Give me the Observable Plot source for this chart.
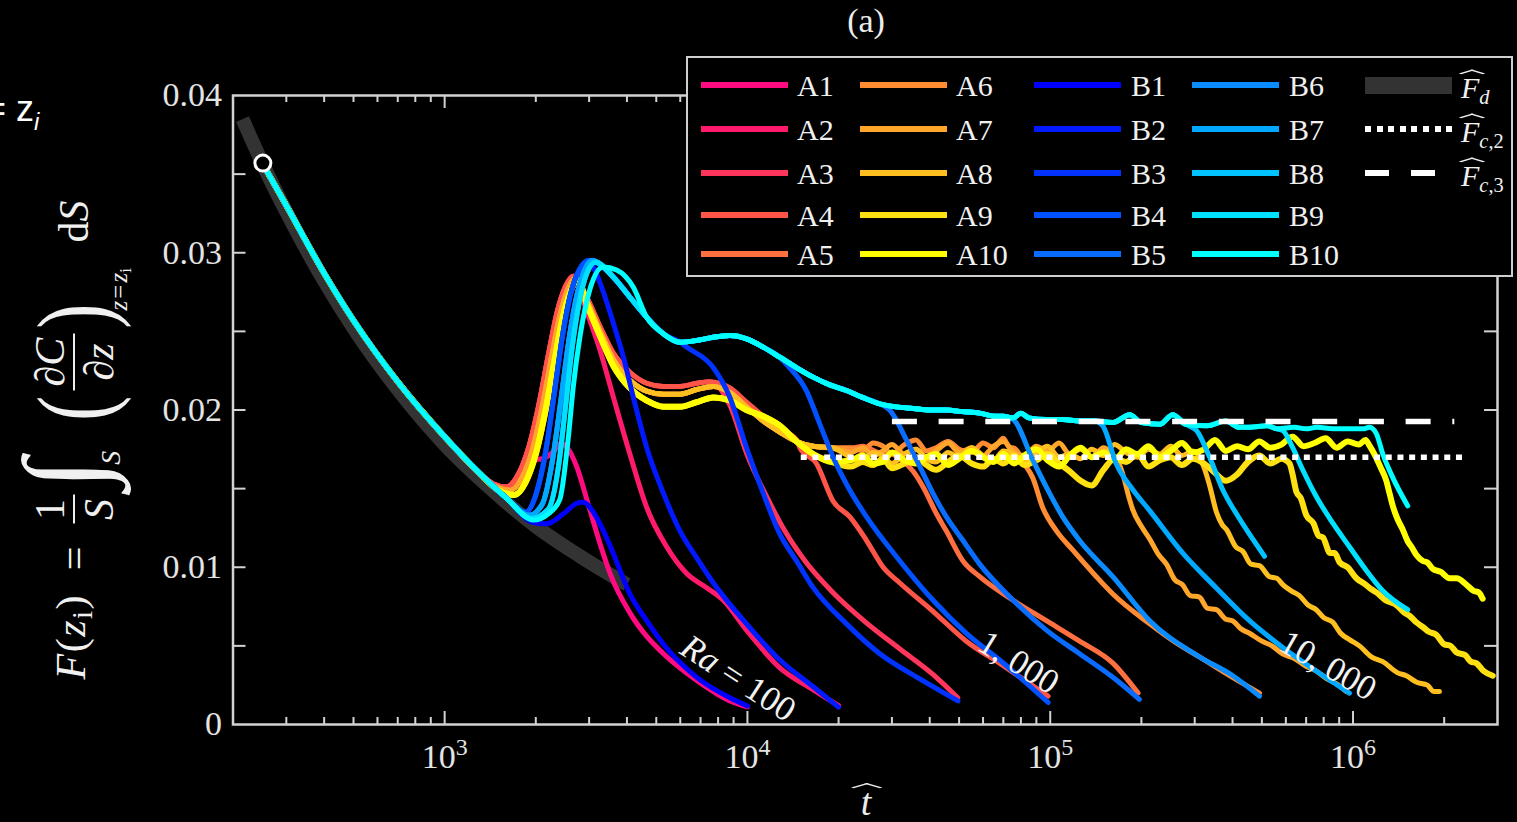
<!DOCTYPE html>
<html><head><meta charset="utf-8">
<script src="https://cdn.jsdelivr.net/npm/d3@7"></script>
<script src="https://cdn.jsdelivr.net/npm/@observablehq/plot@0.6"></script>
<style>
html,body{margin:0;padding:0;background:#000;}
#wrap{position:relative;width:1517px;height:822px;overflow:hidden;background:#000;font-family:"Liberation Serif",serif;color:#e8e8e8;}
#wrap svg{position:absolute;left:0;top:0;}
.abs{position:absolute;white-space:nowrap;}
#legend{position:absolute;left:686px;top:56px;width:823px;height:217px;border:2.5px solid #cfcfcf;background:#000;}
.sw{position:absolute;height:6px;width:87px;}
.lt{position:absolute;font-size:30px;line-height:30px;height:30px;color:#f0f0f0;}
.hatw{position:relative;display:inline-block;font-style:italic;}
.hatw::before{content:"";position:absolute;left:58%;top:-0.16em;width:0.3em;height:0.3em;border-left:2px solid currentColor;border-top:2px solid currentColor;transform:translateX(-50%) scale(1.7,0.5) rotate(45deg);}
.sub{font-size:0.68em;vertical-align:-0.3em;}
.isub{font-size:0.68em;vertical-align:-0.25em;}
.frac{display:inline-flex;flex-direction:column;align-items:center;line-height:1.0;}
.frac .num{border-bottom:2px solid #eee;padding:0 4px 2px 4px;}
.frac .den{padding-top:3px;}
</style></head>
<body><div id="wrap"></div>
<script>
// ---------------- data ----------------
const xTicksMajor = [1e3, 1e4, 1e5, 1e6];
const xTickExp = ["3", "4", "5", "6"];
const xTicksMinor = [300,400,500,600,700,800,900,2e3,3e3,4e3,5e3,6e3,7e3,8e3,9e3,2e4,3e4,4e4,5e4,6e4,7e4,8e4,9e4,2e5,3e5,4e5,5e5,6e5,7e5,8e5,9e5,2e6];
const yTicks = [0.005,0.01,0.015,0.02,0.025,0.03,0.035];
const yLabelValues = [0, 0.01, 0.02, 0.03, 0.04];
const yLabelText = ["0", "0.01", "0.02", "0.03", "0.04"];

const namesA = ["A1","A2","A3","A4","A5","A6","A7","A8","A9","A10"];
const namesB = ["B1","B2","B3","B4","B5","B6","B7","B8","B9","B10"];
const colorsA = ["#ff0a80","#ff1a6c","#ff355c","#ff5548","#ff7040","#ff8c33","#ffa62b","#ffbf20","#ffe010","#ffff00"];
const colorsB = ["#0000ff","#0019ff","#0033ff","#0052ff","#0a6cff","#0a8cff","#00a8ff","#00c2ff","#00e0ff","#00ffff"];

// diffusive reference F_d (thick grey)
const Fd = [[215,0.0385],[260,0.0350],[300,0.0326],[400,0.0282],[500,0.0252],[700,0.0213],[1000,0.0178],[1400,0.0151],[2000,0.0126],[2800,0.0107],[4000,0.0089]];
const Fc2 = [[1.5e4,0.0170],[2.37e6,0.0170]];
const Fc3 = [[3.0e4,0.01927],[2.16e6,0.01927]];
const startPoint = [[251,0.0357]];

// shared early decay
const early = [[250,0.0357],[300,0.0330],[400,0.0287],[500,0.0257],[700,0.0218],[1000,0.0183],[1300,0.0160]];

// Ra = 100
const A1rest = [[1450,0.0153],[1600,0.0151],[1750,0.0158],[1900,0.0168],[2100,0.0169],[2300,0.0174],[2420,0.0179],[2540,0.0176],[2730,0.0164],[2980,0.0140],[3260,0.0115],[3520,0.0096],[4090,0.0071],[4650,0.0056],[5280,0.0045],[6800,0.0028],[8750,0.0015],[10000,0.00112]];
const B1rest = [[1600,0.0144],[1960,0.01285],[2170,0.01276],[2470,0.0134],[2730,0.01407],[2870,0.01414],[3100,0.0135],[3340,0.01234],[3610,0.01085],[4090,0.0083],[4650,0.0066],[5280,0.0051],[6800,0.0030],[8750,0.0017],[10000,0.00118]];

// rises
const riseAa = [[1450,0.0153],[1600,0.0151],[1750,0.0159],[1900,0.0177],[2050,0.0204],[2200,0.0235],[2350,0.0262],[2500,0.0278],[2660,0.0285]];
const riseAb = [[1450,0.0152],[1650,0.0149],[1800,0.0157],[1950,0.0175],[2100,0.0202],[2250,0.0233],[2400,0.0260],[2550,0.0277],[2700,0.0284]];
const riseAc = [[1500,0.0149],[1700,0.0146],[1850,0.0154],[2000,0.0172],[2150,0.0199],[2300,0.0230],[2450,0.0258],[2600,0.0275],[2750,0.0283]];
const riseBa = [[1600,0.0144],[1850,0.0135],[2000,0.0146],[2150,0.0172],[2300,0.0210],[2450,0.0247],[2600,0.0273],[2800,0.0290],[3000,0.0295]];
const riseBb = [[1600,0.0144],[1900,0.0133],[2100,0.0140],[2270,0.0168],[2420,0.0206],[2570,0.0244],[2720,0.0271],[2900,0.0289],[3060,0.0295]];
const riseBc = [[1600,0.0144],[1930,0.0131],[2200,0.0137],[2380,0.0165],[2500,0.0200],[2630,0.0238],[2780,0.0268],[2950,0.0287],[3150,0.0294]];
const riseB10 = [[1600,0.0144],[1965,0.0130],[2200,0.0134],[2400,0.0143],[2560,0.0182],[2660,0.0215],[2800,0.0247],[3020,0.0277],[3340,0.0291],[3700,0.0289],[4200,0.0278]];

// A branch after first peak
const A2tail = [[2940,0.0263],[3260,0.0238],[3610,0.0208],[4090,0.0172],[4650,0.0138],[5410,0.0113],[6300,0.0096],[7330,0.0087],[8320,0.0079],[9930,0.0060],[12800,0.0036],[16500,0.0022],[20000,0.0012]];
const shoulderUp = [[2940,0.0272],[3260,0.0253],[3610,0.0236],[4090,0.0224],[4650,0.0217],[5280,0.0215],[5990,0.0215],[6800,0.0217],[7520,0.0218]];
const A3tail = [[8750,0.0203],[10000,0.0171],[11500,0.0146],[13300,0.0123],[15500,0.0104],[19150,0.0084],[24600,0.0065],[31900,0.0048],[40900,0.0032],[49500,0.0017]];
const A4mid = [[8760,0.0214],[9930,0.0205],[11270,0.0196],[12790,0.0188],[14530,0.0181]];
const A4tail = [[14900,0.0176],[16900,0.0166],[19190,0.0142],[21790,0.0132],[24740,0.0117],[28070,0.0100],[31870,0.0090],[41000,0.0072],[52800,0.0053],[68000,0.0039],[98400,0.0018]];
const shoulderMid = [[2940,0.0270],[3260,0.0250],[3610,0.0232],[4090,0.0219],[4650,0.0212],[5280,0.0210],[5990,0.0210],[6800,0.0213],[7720,0.0215],[8760,0.0211],[9930,0.0202],[11270,0.0193],[12790,0.0186],[14530,0.0180],[16480,0.0177],[19000,0.0176]];
const shoulderLow = [[2940,0.0268],[3260,0.0247],[3610,0.0228],[4090,0.0214],[4650,0.0206],[5280,0.0202],[5990,0.0202],[6800,0.0205],[7720,0.0208],[8760,0.0206],[9930,0.0200],[11270,0.0196],[12790,0.0190],[14530,0.0180],[16480,0.0172],[19000,0.0167]];
const A5rest = [[21240,0.0175],[24000,0.0177],[27000,0.0173],[30000,0.0172],[31870,0.0169],[35250,0.0161],[38040,0.0151],[42100,0.0134],[45400,0.0123],[51500,0.0104],[58500,0.0094],[75400,0.0079],[97100,0.0066],[125000,0.0053],[161000,0.0039],[195000,0.0020]];
const plateauA6 = [[22000,0.0176],[24000,0.0174],[26000,0.0179],[28000,0.0177],[30000,0.0172],[33000,0.0178],[36000,0.0181],[39000,0.0174],[42000,0.0176],[46000,0.0180],[50000,0.0175],[55000,0.0173],[60000,0.0179],[65000,0.0176],[70000,0.0182],[73500,0.0176]];
const A6tail = [[75400,0.0176],[82600,0.0165],[87500,0.0157],[94400,0.0138],[105000,0.0123],[118600,0.0111],[142000,0.0094],[161000,0.0083],[213000,0.0064],[260000,0.0052],[311000,0.0043],[400000,0.0030],[491000,0.0020]];
const plateauA7 = [[22000,0.0173],[24000,0.0176],[26000,0.0171],[28000,0.0174],[30000,0.0178],[33000,0.0172],[36000,0.0175],[39000,0.0170],[42000,0.0174],[46000,0.0179],[50000,0.0173],[55000,0.0176],[60000,0.0171],[65000,0.0177],[70000,0.0180],[76000,0.0173],[82000,0.0171],[90000,0.0177],[98000,0.0174],[107000,0.0179],[116000,0.0172],[126000,0.0175],[137000,0.0170],[150000,0.0176]];
const A7tail = [[160000,0.0172],[167000,0.0168],[175000,0.0157],[181000,0.0146],[187000,0.0137],[200000,0.0126],[213000,0.0118],[228000,0.0108],[242000,0.0102],[258000,0.0092],[273000,0.0089],[290000,0.0082],[311000,0.0081],[330000,0.0074],[354000,0.0073],[380000,0.0067],[400000,0.0066],[425000,0.0061],[455000,0.0058],[500000,0.0053],[540000,0.0050],[585000,0.0045],[640000,0.0042],[700000,0.0037],[757000,0.0034],[820000,0.0029],[880000,0.0026],[950000,0.0021]];
const plateauA8 = [[22000,0.0170],[24000,0.0168],[26000,0.0173],[28000,0.0171],[30000,0.0166],[33000,0.0172],[36000,0.0175],[39000,0.0169],[42000,0.0167],[46000,0.0173],[50000,0.0170],[55000,0.0176],[60000,0.0171],[65000,0.0168],[70000,0.0174],[76000,0.0172],[82000,0.0167],[90000,0.0173],[98000,0.0177],[107000,0.0170],[116000,0.0172],[126000,0.0169],[137000,0.0175],[150000,0.0171],[163000,0.0178],[178000,0.0173],[194000,0.0170],[211000,0.0175],[230000,0.0172],[250000,0.0177],[272000,0.0171],[296000,0.0174],[315000,0.0168]];
const A8tail = [[324000,0.0162],[336000,0.0152],[354000,0.0135],[370000,0.0127],[382000,0.0124],[410000,0.0113],[433000,0.0110],[460000,0.0102],[491000,0.0101],[530000,0.0094],[560000,0.0093],[586000,0.0089],[625000,0.0085],[665000,0.0082],[710000,0.0076],[756000,0.0073],[800000,0.0068],[858000,0.0065],[910000,0.0058],[973000,0.0054],[1050000,0.0050],[1150000,0.0043],[1254000,0.0040],[1400000,0.0033],[1500000,0.0031],[1617000,0.0027],[1760000,0.0025],[1850000,0.0021],[1928000,0.0021]];
const plateauA9 = [[22000,0.0164],[24000,0.0167],[26000,0.0165],[28000,0.0169],[30000,0.0163],[33000,0.0166],[36000,0.0170],[39000,0.0165],[42000,0.0162],[46000,0.0167],[50000,0.0171],[55000,0.0166],[60000,0.0164],[65000,0.0169],[70000,0.0166],[76000,0.0171],[82000,0.0165],[90000,0.0168],[98000,0.0172],[107000,0.0166],[116000,0.0161],[126000,0.0155],[137000,0.0152],[150000,0.0162],[163000,0.0169],[178000,0.0167],[194000,0.0172],[211000,0.0164],[230000,0.0168],[250000,0.0170],[272000,0.0165],[296000,0.0169],[322000,0.0166],[350000,0.0160],[380000,0.0155],[414000,0.0159],[450000,0.0167],[490000,0.0171],[533000,0.0166],[580000,0.0169]];
const A9tail = [[617000,0.0166],[630000,0.0160],[650000,0.0148],[672000,0.0144],[701000,0.0133],[740000,0.0128],[770000,0.0120],[795000,0.0119],[840000,0.0109],[870000,0.0109],[904000,0.0103],[960000,0.0100],[1026000,0.0093],[1100000,0.0089],[1150000,0.0086],[1194000,0.0084],[1280000,0.0079],[1390000,0.0076],[1480000,0.0071],[1540000,0.0069],[1618000,0.0065],[1700000,0.0062],[1780000,0.0059],[1884000,0.0057],[2000000,0.0051],[2100000,0.0050],[2193000,0.0046],[2350000,0.0044],[2450000,0.0040],[2553000,0.0039],[2700000,0.0034],[2894000,0.0031]];
const plateauA10 = [[22000,0.0168],[24000,0.0171],[26000,0.0166],[28000,0.0167],[30000,0.0173],[33000,0.0168],[36000,0.0166],[39000,0.0170],[42000,0.0172],[46000,0.0165],[50000,0.0169],[55000,0.0174],[60000,0.0170],[65000,0.0167],[70000,0.0172],[76000,0.0166],[82000,0.0171],[90000,0.0175],[98000,0.0168],[107000,0.0164],[116000,0.0171],[126000,0.0176],[137000,0.0170],[150000,0.0173],[163000,0.0168],[178000,0.0175],[194000,0.0172],[211000,0.0177],[230000,0.0170],[250000,0.0174],[272000,0.0179],[296000,0.0173],[322000,0.0175],[350000,0.0181],[380000,0.0174],[414000,0.0177],[450000,0.0175],[490000,0.0180],[533000,0.0176],[580000,0.0178],[631000,0.0183],[686000,0.0177],[746000,0.0179],[812000,0.0182],[883000,0.0176],[960000,0.0180],[1045000,0.0178],[1100000,0.0181],[1136000,0.0177]];
const A10tail = [[1183000,0.0171],[1230000,0.0164],[1288000,0.0155],[1320000,0.0147],[1353000,0.0139],[1400000,0.0131],[1459000,0.0124],[1520000,0.0116],[1560000,0.0113],[1617000,0.0108],[1700000,0.0104],[1760000,0.0103],[1834000,0.0099],[1950000,0.0097],[2084000,0.0093],[2200000,0.0093],[2366000,0.0089],[2500000,0.0085],[2600000,0.0084],[2680000,0.0080]];

// B branch after first peak
const B2tail = [[3180,0.0286],[3610,0.0255],[3890,0.0234],[4200,0.0208],[4650,0.0176],[5280,0.0147],[5990,0.0123],[6800,0.0106],[7720,0.0090],[9930,0.0064],[12800,0.0041],[16500,0.0024],[20000,0.0011]];
const pB1a = [[3606,0.02845],[4093,0.02717]];
const pB1b = [[4646,0.0259],[5275,0.02485],[5989,0.02431]];
const B3tail = [[6300,0.0240],[7710,0.0227],[8750,0.0208],[9930,0.0176],[11280,0.0147],[12800,0.0121],[14530,0.0104],[16490,0.0087],[21240,0.0064],[27370,0.0045],[37100,0.0029],[49600,0.0015]];
const pB2 = [[6797,0.02442],[7715,0.02463],[8757,0.02474],[9933,0.02453],[11270,0.0240],[12790,0.02336]];
const B4tail = [[13460,0.0229],[15680,0.0212],[17340,0.0191],[19190,0.0170],[21790,0.0149],[24740,0.0132],[31870,0.0104],[41020,0.0079],[52840,0.0058],[68050,0.0041],[98400,0.0014]];
const pB3 = [[14500,0.0227],[16480,0.02209],[18700,0.0216],[21240,0.02124],[24000,0.0208],[27370,0.02039]];
const B5tail = [[29500,0.0200],[33500,0.0181],[37100,0.0164],[41000,0.0147],[45400,0.0132],[51500,0.0117],[58500,0.0102],[75400,0.0079],[97100,0.0060],[125000,0.0045],[161000,0.0030],[197000,0.0016]];
const pB4 = [[31000,0.0202],[35260,0.0201],[40000,0.0200],[45420,0.0200],[51000,0.0199],[58500,0.0198],[66000,0.0196],[70000,0.0196]];
const B6tail = [[75400,0.0194],[87700,0.0168],[97100,0.0151],[110000,0.0132],[125000,0.0117],[161000,0.0094],[213000,0.0066],[311000,0.0043],[401000,0.0031],[491000,0.0018]];
const pB5 = [[75400,0.0195],[80000,0.0198],[85000,0.0195],[97000,0.0194],[110000,0.0194],[125000,0.0193],[140000,0.0193]];
const B7tail = [[149000,0.0190],[165000,0.0166],[188000,0.0149],[213000,0.0136],[274000,0.0109],[353000,0.0087],[455000,0.0066],[586000,0.0049],[756000,0.0034],[973000,0.0020]];
const pB6 = [[161000,0.0192],[183000,0.0197],[200000,0.0192],[230000,0.0191],[254000,0.0197],[280000,0.0191]];
const B8tail = [[304000,0.0187],[336000,0.0170],[372000,0.0149],[412000,0.0134],[455000,0.0121],[510000,0.0107]];
const pB7 = [[330000,0.0190],[380000,0.0193],[420000,0.0189],[455000,0.0189],[520000,0.0190],[560000,0.0188]];
const B9tail = [[586000,0.0187],[632000,0.0176],[682000,0.0162],[756000,0.0145],[858000,0.0128],[973000,0.0113],[1106000,0.0098],[1254000,0.0085],[1516000,0.0073]];
const pB8 = [[640000,0.0189],[700000,0.0188],[760000,0.0189],[860000,0.0188],[970000,0.0188],[1080000,0.0188]];
const B10tail = [[1133000,0.0189],[1194000,0.0185],[1254000,0.0172],[1353000,0.0157],[1516000,0.0139]];

const annotations = [
  {t: 9330, y: 0.00293, label: "Ra = 100", angle: 33},
  {t: 78700, y: 0.00394, label: "1, 000", angle: 32},
  {t: 827000, y: 0.00375, label: "10, 000", angle: 30}
];

// ------------- build series -------------
const partsA = [
  [early, A1rest],
  [early, riseAa, A2tail],
  [early, riseAa, shoulderUp, A3tail],
  [early, riseAa, shoulderUp, A4mid, A4tail],
  [early, riseAb, shoulderMid, A5rest],
  [early, riseAb, shoulderMid, plateauA6, A6tail],
  [early, riseAb, shoulderMid, plateauA7, A7tail],
  [early, riseAc, shoulderMid, plateauA8, A8tail],
  [early, riseAc, shoulderLow, plateauA9, A9tail],
  [early, riseAc, shoulderLow, plateauA10, A10tail]
];
const partsB = [
  [early, B1rest],
  [early, riseBa, B2tail],
  [early, riseBa, pB1a, pB1b, B3tail],
  [early, riseBa, pB1a, pB1b, pB2, B4tail],
  [early, riseBb, pB1a, pB1b, pB2, pB3, B5tail],
  [early, riseBb, pB1a, pB1b, pB2, pB3, pB4, B6tail],
  [early, riseBb, pB1a, pB1b, pB2, pB3, pB4, pB5, B7tail],
  [early, riseBc, pB1a, pB1b, pB2, pB3, pB4, pB5, pB6, B8tail],
  [early, riseBc, pB1a, pB1b, pB2, pB3, pB4, pB5, pB6, pB7, B9tail],
  [early, riseB10, pB1b, pB2, pB3, pB4, pB5, pB6, pB7, pB8, B10tail]
];
const toRows = parts => parts.flat().map(([t, y]) => ({t, y}));
const seriesList = [
  ...partsA.map((p, i) => ({name: namesA[i], color: colorsA[i], width: i >= 8 ? 6 : 5, rows: toRows(p)})),
  ...partsB.map((p, i) => ({name: namesB[i], color: colorsB[i], width: 5, rows: toRows(p)}))
];

// ------------- plot -------------
const W = 1517, H = 822, mL = 232.5, mR = 20, mT = 95, mB = 98;
const plotW = W - mL - mR, plotH = H - mT - mB;
const axisColor = "#d2d2d2", labelColor = "#e4e4e4";
const pts = a => a.map(([t, y]) => ({t, y}));

const chart = Plot.plot({
  width: W, height: H,
  marginLeft: mL, marginRight: mR, marginTop: mT, marginBottom: mB,
  style: {background: "transparent", color: labelColor, fontFamily: "'Liberation Serif', serif", overflow: "visible"},
  x: {type: "log", domain: [200, 3e6], axis: null},
  y: {domain: [0, 0.04], axis: null},
  marks: [
    Plot.frame({stroke: axisColor, strokeWidth: 2.5}),
    Plot.tickX(xTicksMajor, {x: d => d, stroke: axisColor, strokeWidth: 2, insetTop: plotH - 13}),
    Plot.tickX(xTicksMajor, {x: d => d, stroke: axisColor, strokeWidth: 2, insetBottom: plotH - 13}),
    Plot.tickX(xTicksMinor, {x: d => d, stroke: axisColor, strokeWidth: 2, insetTop: plotH - 7}),
    Plot.tickX(xTicksMinor, {x: d => d, stroke: axisColor, strokeWidth: 2, insetBottom: plotH - 7}),
    Plot.tickY(yTicks, {y: d => d, stroke: axisColor, strokeWidth: 2, insetRight: plotW - 13}),
    Plot.tickY(yTicks, {y: d => d, stroke: axisColor, strokeWidth: 2, insetLeft: plotW - 13}),
    Plot.text(yLabelValues, {y: d => d, text: (d, i) => yLabelText[i], frameAnchor: "left", dx: -11, textAnchor: "end", fontSize: 34, fill: labelColor}),
    Plot.text(xTicksMajor, {x: d => d, text: (d, i) => "10^" + xTickExp[i], frameAnchor: "bottom", dy: 43, lineAnchor: "bottom", textAnchor: "middle", fontSize: 34, fill: labelColor}),
    Plot.line(pts(Fd), {x: "t", y: "y", stroke: "#333333", strokeWidth: 14, strokeLinecap: "butt", curve: "monotone-x"}),
    ...seriesList.map(s => Plot.line(s.rows, {x: "t", y: "y", stroke: s.color, strokeWidth: s.width, curve: "monotone-x", clip: true})),
    Plot.line(pts(Fc2), {x: "t", y: "y", stroke: "#ffffff", strokeWidth: 5.5, strokeDasharray: "6,5.7", strokeLinecap: "butt"}),
    Plot.line(pts(Fc3), {x: "t", y: "y", stroke: "#ffffff", strokeWidth: 5.5, strokeDasharray: "25,21.7", strokeLinecap: "butt"}),
    Plot.dot(pts(startPoint), {x: "t", y: "y", r: 8, stroke: "#ffffff", strokeWidth: 3, fill: "#000"}),
    Plot.text(annotations, {x: "t", y: "y", text: "label", rotate: "angle", fontSize: 35, fill: "#f2f2f2", textAnchor: "middle"})
  ]
});

// post-process: superscripts and italic Ra
const NS = "http://www.w3.org/2000/svg";
chart.querySelectorAll("text").forEach(el => {
  const s = el.textContent;
  let m = s.match(/^10\^(\d)$/);
  if (m) {
    el.textContent = "";
    const a = document.createElementNS(NS, "tspan"); a.textContent = "10";
    const b = document.createElementNS(NS, "tspan"); b.textContent = m[1];
    b.setAttribute("dy", "-13"); b.setAttribute("font-size", "24");
    el.appendChild(a); el.appendChild(b);
  } else if (s.startsWith("Ra")) {
    el.textContent = "";
    const a = document.createElementNS(NS, "tspan"); a.textContent = "Ra";
    a.setAttribute("font-style", "italic");
    const b = document.createElementNS(NS, "tspan"); b.textContent = " = 100";
    el.appendChild(a); el.appendChild(b);
  }
});

const wrap = document.getElementById("wrap");
wrap.appendChild(chart);

// ------------- overlay texts -------------
function addHTML(html) { wrap.insertAdjacentHTML("beforeend", html); }
addHTML(`<div class="abs" style="left:866px;top:2px;transform:translateX(-50%);font-size:34px;color:#ececec">(a)</div>`);
addHTML(`<div class="abs" style="left:-15px;top:91px;font-family:'Liberation Sans',sans-serif;font-size:36px;line-height:36px;color:#fff">= z<span style="font-size:24px;font-style:italic;vertical-align:-9px">i</span></div>`);
addHTML(`<div class="abs" style="left:866px;top:787px;transform:translateX(-50%);font-size:38px;line-height:30px;color:#ececec"><span class="hatw">t</span></div>`);
addHTML(`<div class="abs" style="left:74px;top:438px;width:0;height:0">
 <div style="position:absolute;left:0;top:0;transform:translate(-50%,-50%) rotate(-90deg);white-space:nowrap;font-size:42px;line-height:1;color:#f0f0f0;display:flex;align-items:center">
  <span style="display:inline-block;flex:none;width:92px;letter-spacing:1.5px"><i>F</i>(<i>z</i><span class="isub">i</span>)</span>
  <span style="display:inline-block;flex:none;width:58px;text-align:center">=</span>
  <span style="display:inline-flex;flex:none;width:40px;justify-content:center"><span class="frac"><span class="num">1</span><span class="den"><i>S</i></span></span></span>
  <span style="display:inline-flex;flex:none;width:76px;align-items:center"><span style="font-size:112px;font-style:italic;line-height:1;position:relative;top:-11px">∫</span><i style="font-size:28px;line-height:1;position:relative;top:37px;margin-left:-6px">S</i></span>
  <span style="display:inline-flex;flex:none;width:103px;justify-content:center;align-items:center"><span style="font-size:104px;line-height:1;display:inline-block;transform:scaleX(0.72)">(</span><span class="frac"><span class="num">∂<i>C</i></span><span class="den">∂<i>z</i></span></span><span style="font-size:104px;line-height:1;display:inline-block;transform:scaleX(0.72)">)</span></span>
  <span style="display:inline-block;flex:none;width:68px;font-size:25px;position:relative;top:46px"><i>z</i>&#8202;=&#8202;<i>z</i><span class="isub">i</span></span>
  <span style="display:inline-block;flex:none;width:46px">d<i>S</i></span>
 </div></div>`);

// ------------- legend -------------
const legendEntries = [];
const colSw = [12.7, 171.8, 346, 504, 677], colTx = [109, 268, 443, 601, 773];
const rowY = [27, 71, 114.5, 156.5, 196];
namesA.forEach((n, i) => legendEntries.push({col: i < 5 ? 0 : 1, row: i % 5, name: n, color: colorsA[i]}));
namesB.forEach((n, i) => legendEntries.push({col: i < 5 ? 2 : 3, row: i % 5, name: n, color: colorsB[i]}));
let lg = `<div id="legend">`;
legendEntries.forEach(e => {
  lg += `<div class="sw" style="left:${colSw[e.col]}px;top:${rowY[e.row] - 3}px;background:${e.color}"></div>`;
  lg += `<div class="lt" style="left:${colTx[e.col]}px;top:${rowY[e.row] - 14}px">${e.name}</div>`;
});
const hatF = `<span class="hatw">F</span>`;
lg += `<div class="sw" style="left:${colSw[4]}px;top:${rowY[0] - 8.5}px;height:17px;background:#333"></div>`;
lg += `<div class="lt" style="left:${colTx[4]}px;top:${rowY[0] - 12}px">${hatF}<i class="sub">d</i></div>`;
lg += `<div class="sw" style="left:${colSw[4]}px;top:${rowY[1] - 3}px;background:repeating-linear-gradient(90deg,#fff 0 6px,transparent 6px 11.6px)"></div>`;
lg += `<div class="lt" style="left:${colTx[4]}px;top:${rowY[1] - 12}px">${hatF}<span class="sub"><i>c</i>,2</span></div>`;
lg += `<div class="sw" style="left:${colSw[4]}px;top:${rowY[2] - 3}px;background:repeating-linear-gradient(90deg,#fff 0 24px,transparent 24px 46px)"></div>`;
lg += `<div class="lt" style="left:${colTx[4]}px;top:${rowY[2] - 12}px">${hatF}<span class="sub"><i>c</i>,3</span></div>`;
lg += `</div>`;
addHTML(lg);
</script>
</body></html>
